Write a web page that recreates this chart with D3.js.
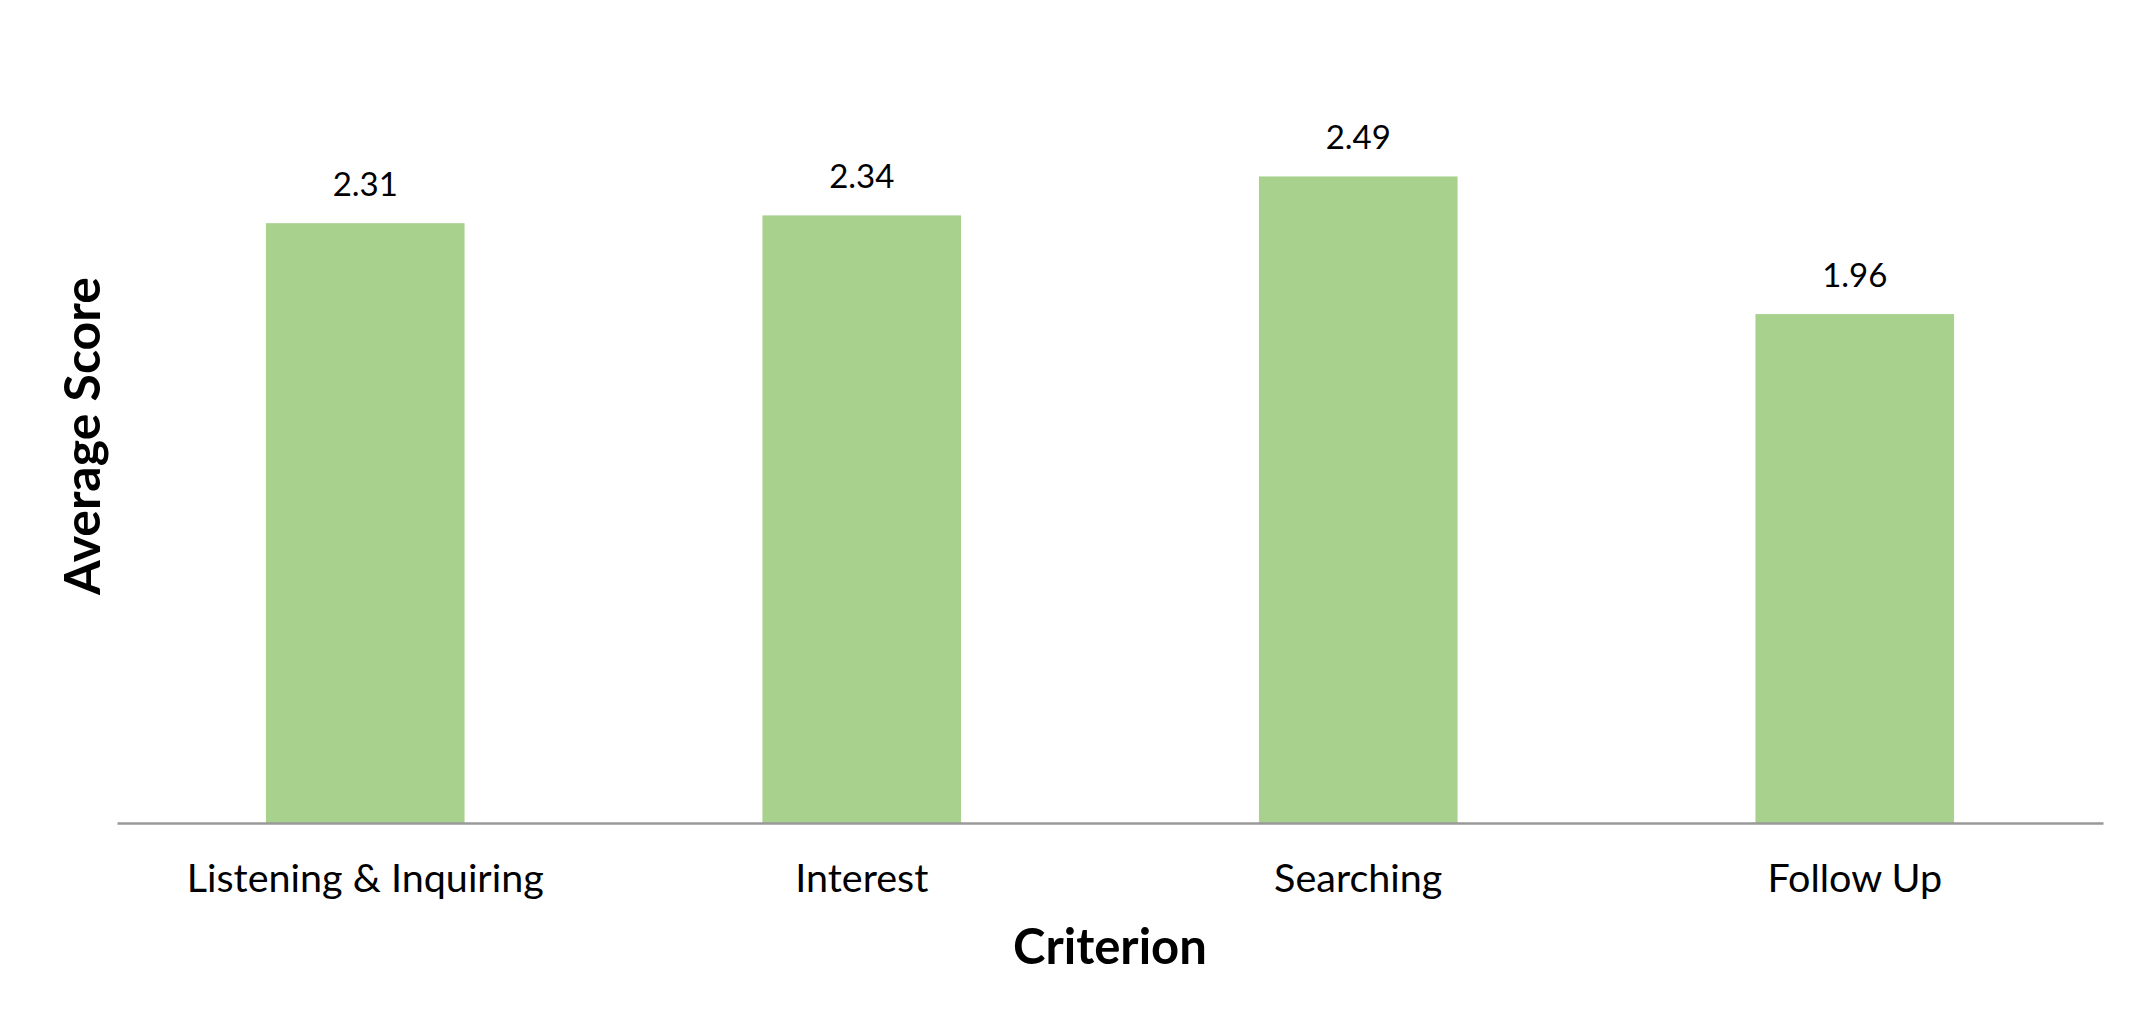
<!DOCTYPE html>
<html>
<head>
<meta charset="utf-8">
<script src="https://cdn.jsdelivr.net/npm/d3@7"></script>
<style>
  html, body { margin: 0; padding: 0; background: #fff; }
  svg { display: block; }
  text { font-family: "Lato", "Open Sans", sans-serif; fill: #000; }
</style>
</head>
<body>
<svg id="chart" width="2150" height="1029"></svg>
<script>
const categories = ["Listening & Inquiring", "Interest", "Searching", "Follow Up"];
const values = [2.31, 2.34, 2.49, 1.96];
const xTitle = "Criterion";
const yTitle = "Average Score";

const svg = d3.select("#chart");
const plotLeft = 117, plotRight = 2103, plotBottom = 823, plotTop = 44;

const x = d3.scaleBand().domain(categories).range([plotLeft, plotRight]).paddingInner(0.6).paddingOuter(0.3);
const y = d3.scaleLinear().domain([0, 3]).range([plotBottom, plotTop]);

svg.append("g").selectAll("rect").data(categories).join("rect")
  .attr("x", d => x(d))
  .attr("y", (d, i) => y(values[i]))
  .attr("width", x.bandwidth())
  .attr("height", (d, i) => y(0) - y(values[i]))
  .attr("fill", "#A9D18E");

svg.append("g").selectAll("text").data(categories).join("text")
  .attr("x", d => x(d) + x.bandwidth() / 2)
  .attr("y", (d, i) => y(values[i]) - 27)
  .attr("text-anchor", "middle")
  .attr("font-size", 33)
  .text((d, i) => values[i].toFixed(2));

const xAxis = svg.append("g").attr("transform", `translate(0,${plotBottom})`)
  .call(d3.axisBottom(x).tickSize(0).tickSizeOuter(0));
xAxis.select(".domain").attr("stroke", "#999").attr("stroke-width", 2.5);
xAxis.selectAll("text")
  .attr("font-size", 39.5)
  .attr("font-family", "Lato, 'Open Sans', sans-serif")
  .attr("fill", "#000")
  .attr("dy", null)
  .attr("y", 69);

svg.append("text")
  .attr("x", (plotLeft + plotRight) / 2).attr("y", 964)
  .attr("text-anchor", "middle").attr("font-size", 49).attr("font-weight", "bold")
  .text(xTitle);

svg.append("text")
  .attr("transform", "translate(100,436) rotate(-90)")
  .attr("text-anchor", "middle").attr("font-size", 50).attr("font-weight", "bold")
  .text(yTitle);
</script>
</body>
</html>
